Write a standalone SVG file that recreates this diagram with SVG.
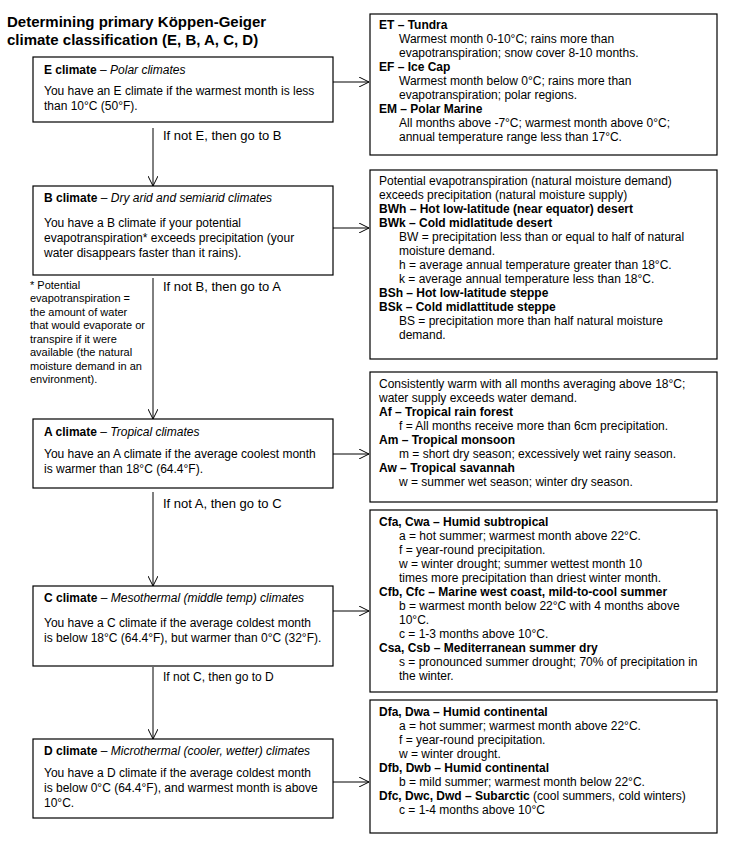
<svg xmlns="http://www.w3.org/2000/svg" width="729" height="848" viewBox="0 0 729 848">
<style>
text{font-family:"Liberation Sans",Arial,sans-serif;fill:#000}
.t{font-size:15px;font-weight:bold}
.b{font-size:12px}
.h{font-size:12px;font-weight:bold}
.i{font-style:italic;font-weight:normal}
.n{font-weight:normal}
.g{font-size:13px}
.f{font-size:11px}
.box{fill:#fff;stroke:#000;stroke-width:1.2}
.c{stroke:#000;stroke-width:1;fill:none}
</style>
<defs>
<marker id="arr" viewBox="0 0 10 10" refX="10" refY="5" markerWidth="10" markerHeight="10" markerUnits="userSpaceOnUse" orient="auto">
<path d="M0,0 L10,5 L0,10" fill="none" stroke="#000" stroke-width="1"/>
</marker>
</defs>
<rect width="729" height="848" fill="#fff"/>
<g id="title">
<text class="t" x="7" y="27">Determining primary Köppen-Geiger</text>
<text class="t" x="7" y="45">climate classification (E, B, A, C, D)</text>
</g>
<g id="connectors">
<line class="c" x1="153" y1="128" x2="153" y2="186" marker-end="url(#arr)"/>
<line class="c" x1="153" y1="278" x2="153" y2="419" marker-end="url(#arr)"/>
<line class="c" x1="153" y1="492" x2="153" y2="586" marker-end="url(#arr)"/>
<line class="c" x1="153" y1="667" x2="153" y2="739" marker-end="url(#arr)"/>
<line class="c" x1="333" y1="82" x2="369" y2="82" marker-end="url(#arr)"/>
<line class="c" x1="333" y1="228" x2="369" y2="228" marker-end="url(#arr)"/>
<line class="c" x1="333" y1="454" x2="369" y2="454" marker-end="url(#arr)"/>
<line class="c" x1="333" y1="611" x2="369" y2="611" marker-end="url(#arr)"/>
<line class="c" x1="333" y1="782" x2="369" y2="782" marker-end="url(#arr)"/>
<text class="g" x="163" y="140">If not E, then go to B</text>
<text class="g" x="163" y="291">If not B, then go to A</text>
<text class="g" x="163" y="508">If not A, then go to C</text>
<text class="b" x="163" y="681">If not C, then go to D</text>
</g>
<g id="E">
<rect class="box" x="33" y="57" width="300" height="65"/>
<text class="h" x="44" y="74">E climate <tspan class="n">– </tspan><tspan class="i">Polar climates</tspan></text>
<text class="b" x="44" y="95">You have an E climate if the warmest month is less</text>
<text class="b" x="44" y="110">than 10°C (50°F).</text>
</g>
<g id="B">
<rect class="box" x="33" y="186" width="300" height="89"/>
<text class="h" x="44" y="202">B climate <tspan class="n">– </tspan><tspan class="i">Dry arid and semiarid climates</tspan></text>
<text class="b" x="44" y="227">You have a B climate if your potential</text>
<text class="b" x="44" y="242">evapotranspiration* exceeds precipitation (your</text>
<text class="b" x="44" y="257">water disappears faster than it rains).</text>
</g>
<g id="footnote">
<text class="f" x="30" y="289">* Potential</text>
<text class="f" x="30" y="302">evapotranspiration =</text>
<text class="f" x="30" y="316">the amount of water</text>
<text class="f" x="30" y="329">that would evaporate or</text>
<text class="f" x="30" y="343">transpire if it were</text>
<text class="f" x="30" y="356">available (the natural</text>
<text class="f" x="30" y="370">moisture demand in an</text>
<text class="f" x="30" y="383">environment).</text>
</g>
<g id="A">
<rect class="box" x="33" y="419" width="300" height="69"/>
<text class="h" x="44" y="436">A climate <tspan class="n">– </tspan><tspan class="i">Tropical climates</tspan></text>
<text class="b" x="44" y="458">You have an A climate if the average coolest month</text>
<text class="b" x="44" y="473">is warmer than 18°C (64.4°F).</text>
</g>
<g id="C">
<rect class="box" x="33" y="586" width="300" height="80"/>
<text class="h" x="44" y="602">C climate <tspan class="n">– </tspan><tspan class="i">Mesothermal (middle temp) climates</tspan></text>
<text class="b" x="44" y="627">You have a C climate if the average coldest month</text>
<text class="b" x="44" y="642">is below 18°C (64.4°F), but warmer than 0°C (32°F).</text>
</g>
<g id="D">
<rect class="box" x="33" y="739" width="300" height="79"/>
<text class="h" x="44" y="755">D climate <tspan class="n">– </tspan><tspan class="i">Microthermal (cooler, wetter) climates</tspan></text>
<text class="b" x="44" y="777">You have a D climate if the average coldest month</text>
<text class="b" x="44" y="792">is below 0°C (64.4°F), and warmest month is above</text>
<text class="b" x="44" y="807">10°C.</text>
</g>
<g id="E-types">
<rect class="box" x="370" y="14" width="347" height="141"/>
<text class="h" x="379" y="29">ET – Tundra</text>
<text class="b" x="399" y="43">Warmest month 0-10°C; rains more than</text>
<text class="b" x="399" y="57">evapotranspiration; snow cover 8-10 months.</text>
<text class="h" x="379" y="71">EF – Ice Cap</text>
<text class="b" x="399" y="85">Warmest month below 0°C; rains more than</text>
<text class="b" x="399" y="99">evapotranspiration; polar regions.</text>
<text class="h" x="379" y="113">EM – Polar Marine</text>
<text class="b" x="399" y="127">All months above -7°C; warmest month above 0°C;</text>
<text class="b" x="399" y="141">annual temperature range less than 17°C.</text>
</g>
<g id="B-types">
<rect class="box" x="370" y="170" width="347" height="189"/>
<text class="b" x="379" y="185">Potential evapotranspiration (natural moisture demand)</text>
<text class="b" x="379" y="199">exceeds precipitation (natural moisture supply)</text>
<text class="h" x="379" y="213">BWh – Hot low-latitude (near equator) desert</text>
<text class="h" x="379" y="227">BWk – Cold midlatitude desert</text>
<text class="b" x="399" y="241">BW = precipitation less than or equal to half of natural</text>
<text class="b" x="399" y="255">moisture demand.</text>
<text class="b" x="399" y="269">h = average annual temperature greater than 18°C.</text>
<text class="b" x="399" y="283">k = average annual temperature less than 18°C.</text>
<text class="h" x="379" y="297">BSh – Hot low-latitude steppe</text>
<text class="h" x="379" y="311">BSk – Cold midlattitude steppe</text>
<text class="b" x="399" y="325">BS = precipitation more than half natural moisture</text>
<text class="b" x="399" y="339">demand.</text>
</g>
<g id="A-types">
<rect class="box" x="370" y="372" width="347" height="130"/>
<text class="b" x="379" y="388">Consistently warm with all months averaging above 18°C;</text>
<text class="b" x="379" y="402">water supply exceeds water demand.</text>
<text class="h" x="379" y="416">Af – Tropical rain forest</text>
<text class="b" x="399" y="430">f = All months receive more than 6cm precipitation.</text>
<text class="h" x="379" y="444">Am – Tropical monsoon</text>
<text class="b" x="399" y="458">m = short dry season; excessively wet rainy season.</text>
<text class="h" x="379" y="472">Aw – Tropical savannah</text>
<text class="b" x="399" y="486">w = summer wet season; winter dry season.</text>
</g>
<g id="C-types">
<rect class="box" x="370" y="510" width="347" height="182"/>
<text class="h" x="379" y="526">Cfa, Cwa – Humid subtropical</text>
<text class="b" x="399" y="540">a = hot summer; warmest month above 22°C.</text>
<text class="b" x="399" y="554">f = year-round precipitation.</text>
<text class="b" x="399" y="568">w = winter drought; summer wettest month 10</text>
<text class="b" x="399" y="582">times more precipitation than driest winter month.</text>
<text class="h" x="379" y="596">Cfb, Cfc – Marine west coast, mild-to-cool summer</text>
<text class="b" x="399" y="610">b = warmest month below 22°C with 4 months above</text>
<text class="b" x="399" y="624">10°C.</text>
<text class="b" x="399" y="638">c = 1-3 months above 10°C.</text>
<text class="h" x="379" y="652">Csa, Csb – Mediterranean summer dry</text>
<text class="b" x="399" y="666">s = pronounced summer drought; 70% of precipitation in</text>
<text class="b" x="399" y="680">the winter.</text>
</g>
<g id="D-types">
<rect class="box" x="370" y="700" width="347" height="133"/>
<text class="h" x="379" y="716">Dfa, Dwa – Humid continental</text>
<text class="b" x="399" y="730">a = hot summer; warmest month above 22°C.</text>
<text class="b" x="399" y="744">f = year-round precipitation.</text>
<text class="b" x="399" y="758">w = winter drought.</text>
<text class="h" x="379" y="772">Dfb, Dwb – Humid continental</text>
<text class="b" x="399" y="786">b = mild summer; warmest month below 22°C.</text>
<text class="h" x="379" y="800">Dfc, Dwc, Dwd – Subarctic<tspan class="n"> (cool summers, cold winters)</tspan></text>
<text class="b" x="399" y="814">c = 1-4 months above 10°C</text>
</g>
</svg>
